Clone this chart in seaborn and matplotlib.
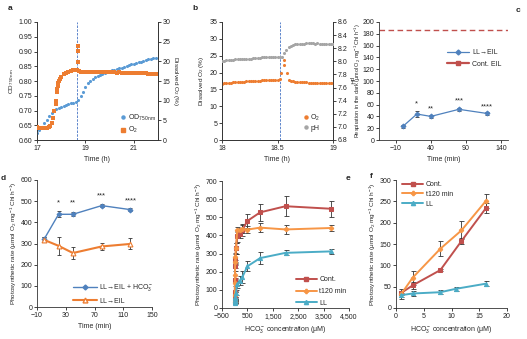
import numpy as np
import pandas as pd
import matplotlib
matplotlib.use("Agg")
import matplotlib.pyplot as plt
import seaborn as sns
from matplotlib.ticker import FuncFormatter, MultipleLocator, FormatStrFormatter
from matplotlib.lines import Line2D

# ---------------- data ----------------
# panel a
a_od_t = [17.0, 17.1, 17.2, 17.3, 17.4, 17.5, 17.6, 17.7, 17.8, 17.9, 18.0, 18.1, 18.2, 18.3, 18.4,
          18.5, 18.6, 18.7, 18.8, 18.9, 19.0, 19.1, 19.2, 19.3, 19.4, 19.5, 19.6, 19.7, 19.8, 19.9,
          20.0, 20.1, 20.2, 20.3, 20.4, 20.5, 20.6, 20.7, 20.8, 20.9, 21.0, 21.1, 21.2, 21.3, 21.4,
          21.5, 21.6, 21.7, 21.8, 21.9]
a_od = [0.623, 0.633, 0.643, 0.656, 0.668, 0.680, 0.692, 0.699, 0.704, 0.708, 0.712, 0.716, 0.720,
        0.723, 0.725, 0.727, 0.729, 0.736, 0.750, 0.764, 0.779, 0.792, 0.800, 0.808, 0.813, 0.818,
        0.821, 0.824, 0.827, 0.830, 0.833, 0.836, 0.838, 0.841, 0.843, 0.845, 0.848, 0.851, 0.853,
        0.856, 0.859, 0.861, 0.864, 0.866, 0.869, 0.871, 0.873, 0.875, 0.877, 0.879]
a_o2_t = [17.0, 17.1, 17.2, 17.3, 17.4, 17.5, 17.55, 17.6, 17.65, 17.7, 17.77, 17.78, 17.81, 17.83,
          17.85, 17.88, 17.9, 17.95, 18.0, 18.1, 18.2, 18.3, 18.4, 18.5, 18.6, 18.65, 18.69, 18.7,
          18.71, 18.75, 18.8, 18.9, 19.0, 19.1, 19.2, 19.3, 19.4, 19.5, 19.6, 19.7, 19.8, 19.9,
          20.0, 20.1, 20.2, 20.3, 20.4, 20.5, 20.6, 20.7, 20.8, 20.9, 21.0, 21.1, 21.2, 21.3,
          21.4, 21.5, 21.6, 21.7, 21.8, 21.9]
a_o2 = [3.2, 3.0, 3.0, 3.0, 3.1, 3.3, 3.6, 4.4, 5.6, 7.5, 9.1, 10.0, 12.2, 13.0, 13.8, 14.5, 15.0,
        15.6, 16.1, 16.7, 17.1, 17.4, 17.6, 17.7, 17.8, 17.8, 19.8, 22.6, 24.0, 17.6, 17.3, 17.2,
        17.2, 17.2, 17.2, 17.2, 17.2, 17.2, 17.2, 17.2, 17.2, 17.2, 17.2, 17.2, 17.2, 17.1, 17.2,
        17.1, 17.1, 17.1, 17.1, 17.1, 17.1, 17.0, 17.0, 17.0, 17.0, 17.0, 16.9, 16.9, 16.8, 16.8]
a_switch = 18.65

# panel b
b_o2_t = [18.00, 18.02, 18.04, 18.06, 18.08, 18.10, 18.12, 18.14, 18.16, 18.18, 18.20, 18.22, 18.24,
          18.26, 18.28, 18.30, 18.32, 18.34, 18.36, 18.38, 18.40, 18.42, 18.44, 18.46, 18.48, 18.50,
          18.52, 18.53, 18.556, 18.562, 18.59, 18.607, 18.62, 18.64, 18.66, 18.68, 18.70, 18.72,
          18.74, 18.76, 18.78, 18.80, 18.82, 18.84, 18.86, 18.88, 18.90, 18.92, 18.94, 18.96, 18.98,
          19.00]
b_o2 = [16.7, 16.8, 16.9, 16.9, 17.0, 17.1, 17.1, 17.2, 17.2, 17.3, 17.3, 17.4, 17.4, 17.5, 17.5,
        17.6, 17.6, 17.6, 17.7, 17.7, 17.7, 17.8, 17.8, 17.8, 17.9, 17.9, 18.0, 19.8, 22.3, 23.7,
        20.0, 17.8, 17.5, 17.4, 17.3, 17.2, 17.2, 17.1, 17.1, 17.1, 17.0, 17.0, 17.0, 17.0, 16.9,
        16.9, 16.9, 17.0, 17.0, 16.9, 16.9, 16.9]
b_ph_t = [18.00, 18.02, 18.04, 18.06, 18.08, 18.10, 18.12, 18.14, 18.16, 18.18, 18.20, 18.22, 18.24,
          18.26, 18.28, 18.30, 18.32, 18.34, 18.36, 18.38, 18.40, 18.42, 18.44, 18.46, 18.48, 18.50,
          18.52, 18.54, 18.56, 18.58, 18.60, 18.62, 18.64, 18.66, 18.68, 18.70, 18.72, 18.74, 18.76,
          18.78, 18.80, 18.82, 18.84, 18.86, 18.88, 18.90, 18.92, 18.94, 18.96, 18.98, 19.00]
b_ph = [8.01, 8.01, 8.02, 8.02, 8.02, 8.02, 8.03, 8.03, 8.03, 8.03, 8.04, 8.04, 8.04, 8.04, 8.05,
        8.05, 8.05, 8.05, 8.06, 8.06, 8.06, 8.06, 8.06, 8.07, 8.07, 8.07, 8.07, 8.07, 8.12, 8.18,
        8.22, 8.24, 8.25, 8.26, 8.26, 8.27, 8.27, 8.27, 8.28, 8.28, 8.28, 8.28, 8.27, 8.28, 8.27,
        8.27, 8.27, 8.26, 8.26, 8.26, 8.26]
b_switch = 18.52

# panel c
c_t = [0, 20, 40, 80, 120]
c_resp = [23, 44, 40, 52, 45]
c_err = [2, 5, 2, 2, 2]
c_cont = 187
c_stars = ["*", "**", "***", "****"]
c_star_t = [20, 40, 80, 120]
c_star_y = [62, 53, 66, 56]

# panel d
d_t = [0, 20, 40, 80, 120]
d_hco3 = [321, 438, 438, 479, 460]
d_hco3_err = [12, 14, 9, 6, 6]
d_eil = [317, 289, 255, 286, 298]
d_eil_err = [12, 41, 28, 18, 26]
d_star_t = [20, 40, 80, 120]
d_star_y = [492, 492, 527, 502]

# panel e
e_cont_x = [1, 3, 8, 12, 16, 25, 50, 100, 200, 300, 500, 1000, 2000, 3800]
e_cont = [35, 53, 89, 157, 234, 270, 330, 395, 410, 430, 480, 527, 561, 547]
e_cont_err = [5, 8, 3, 8, 12, 25, 30, 30, 25, 35, 37, 46, 55, 45]
e_t120_x = [1, 3, 8, 12, 16, 25, 50, 100, 200, 300, 500, 1000, 2000, 3800]
e_t120 = [32, 71, 139, 182, 251, 280, 330, 432, 428, 435, 432, 443, 433, 441]
e_t120_err = [12, 16, 18, 21, 16, 25, 30, 15, 15, 20, 18, 23, 25, 16]
e_ll_x = [1, 3, 8, 11, 16, 25, 50, 100, 200, 300, 500, 1000, 2000, 3800]
e_ll = [30, 34, 37, 45, 57, 62, 85, 130, 150, 170, 230, 275, 304, 312]
e_ll_err = [5, 5, 5, 5, 6, 10, 15, 20, 25, 32, 27, 32, 13, 12]

# panel f
f_cont_x = [0.9, 3, 8, 11.8, 16.2]
f_cont = [35, 53, 89, 157, 234]
f_cont_err = [5, 8, 3, 8, 12]
f_t120_x = [0.9, 3, 8, 11.8, 16.2]
f_t120 = [32, 71, 139, 182, 251]
f_t120_err = [12, 16, 18, 21, 16]
f_ll_x = [0.9, 3, 8, 10.8, 16.2]
f_ll = [30, 34, 37, 45, 57]
f_ll_err = [5, 5, 5, 5, 6]

# ---------------- style ----------------
sns.set_theme(style="ticks")
plt.rcParams['font.family'] = ['Liberation Sans', 'DejaVu Sans']
plt.rcParams['mathtext.fontset'] = 'custom'
plt.rcParams['mathtext.rm'] = 'Liberation Sans'
plt.rcParams['mathtext.it'] = 'Liberation Sans:italic'
plt.rcParams['mathtext.bf'] = 'Liberation Sans:bold'
plt.rcParams['font.size'] = 5

BLUE = "#5B9BD5"
ORANGE = "#ED7D31"
GRAY = "#A5A5A5"
DBLUE = "#4F81BD"
RED = "#C0504D"
LORANGE = "#F79646"
CYAN = "#4BACC6"
VLINE = "#4472C4"
EB = "#333333"
LFS = 4.6

W, H = 527, 339
fig = plt.figure(figsize=(W / 100, H / 100), dpi=100)


def px_axes(l, t, r, b):
    return fig.add_axes([l / W, 1 - b / H, (r - l) / W, (b - t) / H])


def style(ax, right=False):
    ax.spines['top'].set_visible(False)
    if not right:
        ax.spines['right'].set_visible(False)
    for s in ax.spines.values():
        s.set_linewidth(0.6)
        s.set_color('#333333')
    ax.tick_params(labelsize=5, length=2, width=0.6, pad=1.5, colors='#222222')


def ylab(ax, txt, pad=2, fs=LFS):
    ax.set_ylabel(txt, fontsize=fs, labelpad=pad)


def xlab(ax, txt, pad=3):
    ax.set_xlabel(txt, fontsize=5, labelpad=pad)


rate_lbl = "Photosynthetic rate (μmol O$_2$ mg$^{-1}$ Chl h$^{-1}$)"

# ---------------- panel a ----------------
ax = px_axes(37, 22, 158, 140)
ax2 = ax.twinx()
sns.scatterplot(x=a_od_t, y=a_od, ax=ax, color=BLUE, s=5, marker='o', linewidth=0, zorder=3)
sns.scatterplot(x=a_o2_t, y=a_o2, ax=ax2, color=ORANGE, s=7, marker='s', linewidth=0, zorder=3)
ax.axvline(a_switch, color=VLINE, lw=0.6, ls=(0, (3, 1.5)))
ax.set_xlim(17, 22)
ax.set_ylim(0.60, 1.00)
ax2.set_ylim(0, 30)
ax.set_xticks([17, 19, 21])
ax.yaxis.set_major_locator(MultipleLocator(0.05))
ax.yaxis.set_major_formatter(FormatStrFormatter('%.2f'))
ax2.yaxis.set_major_locator(MultipleLocator(5))
style(ax, True)
style(ax2, True)
ylab(ax, "OD$_{750\\,\\mathrm{nm}}$")
ax2.set_ylabel("Dissolved O$_2$ (%)", fontsize=LFS, rotation=270, labelpad=7)
xlab(ax, "Time (h)")
hs = [Line2D([], [], ls='', marker='o', ms=2.2, color=BLUE),
      Line2D([], [], ls='', marker='s', ms=2.4, color=ORANGE)]
ax2.legend(hs, ["OD$_{750\\,\\mathrm{nm}}$", "O$_2$"], loc='lower right', bbox_to_anchor=(1.02, 0.0),
           frameon=False, fontsize=5, handlelength=0.6, handletextpad=0.3, labelspacing=0.3,
           borderaxespad=0.3)

# ---------------- panel b ----------------
ax = px_axes(222, 22, 333, 140)
ax2 = ax.twinx()
sns.scatterplot(x=b_o2_t, y=b_o2, ax=ax, color=ORANGE, s=5, marker='o', linewidth=0, zorder=3)
sns.scatterplot(x=b_ph_t, y=b_ph, ax=ax2, color=GRAY, s=5, marker='o', linewidth=0, zorder=3)
ax.axvline(b_switch, color=VLINE, lw=0.6, ls=(0, (3, 1.5)))
ax.set_xlim(18, 19)
ax.set_ylim(0, 35)
ax2.set_ylim(6.8, 8.6)
ax.set_xticks([18, 18.5, 19])
ax.set_xticklabels(["18", "18.5", "19"])
ax.yaxis.set_major_locator(MultipleLocator(5))
ax2.yaxis.set_major_locator(MultipleLocator(0.2))
ax2.yaxis.set_major_formatter(FormatStrFormatter('%.1f'))
style(ax, True)
style(ax2, True)
ylab(ax, "Dissolved O$_2$ (%)")
ax2.set_ylabel("pH", fontsize=4.3, rotation=270, labelpad=4.5)
xlab(ax, "Time (h)")
hs = [Line2D([], [], ls='', marker='o', ms=2.2, color=ORANGE),
      Line2D([], [], ls='', marker='o', ms=2.2, color=GRAY)]
ax2.legend(hs, ["O$_2$", "pH"], loc='lower right', bbox_to_anchor=(0.93, 0.03),
           frameon=False, fontsize=5, handlelength=0.6, handletextpad=0.3, labelspacing=0.3,
           borderaxespad=0.3)

# ---------------- panel c ----------------
ax = px_axes(379, 22, 508, 140)
ax.axhline(c_cont, color=RED, lw=1.0, ls=(0, (4, 2.5)))
ax.errorbar(c_t, c_resp, yerr=c_err, fmt='none', ecolor=EB, elinewidth=0.6, capsize=1.5,
            capthick=0.6, zorder=2)
sns.lineplot(x=c_t, y=c_resp, ax=ax, color=DBLUE, marker='D', markersize=2.5,
             markeredgecolor=DBLUE, linewidth=0.9, zorder=3)
for t, y, s in zip(c_star_t, c_star_y, c_stars):
    ax.text(t, y, s, ha='center', va='center', fontsize=5.5)
ax.set_xlim(-34, 150)
ax.set_ylim(0, 200)
ax.set_xticks([-10, 40, 90, 140])
ax.yaxis.set_major_locator(MultipleLocator(20))
style(ax)
ylab(ax, "Respiration in the dark (μmol O$_2$ mg$^{-1}$ Chl h$^{-1}$)", pad=1, fs=4.0)
ax.yaxis.set_label_coords(-0.125, 0.5)
xlab(ax, "Time (min)")
hs = [Line2D([], [], color=DBLUE, lw=0.9, marker='D', ms=2.5),
      Line2D([], [], color=RED, lw=1.6, marker='s', ms=2.8)]
ax.legend(hs, ["LL→EIL", "Cont. EIL"], loc='upper right', bbox_to_anchor=(1.0, 0.82),
          frameon=False, fontsize=5, handlelength=3.2, handletextpad=0.4, labelspacing=0.6)

# ---------------- panel d ----------------
ax = px_axes(37, 180, 152, 307)
ax.errorbar(d_t, d_hco3, yerr=d_hco3_err, fmt='none', ecolor=EB, elinewidth=0.6, capsize=1.5,
            capthick=0.6, zorder=2)
ax.errorbar(d_t, d_eil, yerr=d_eil_err, fmt='none', ecolor=EB, elinewidth=0.6, capsize=1.5,
            capthick=0.6, zorder=2)
sns.lineplot(x=d_t, y=d_hco3, ax=ax, color=DBLUE, marker='D', markersize=2.5,
             markeredgecolor=DBLUE, linewidth=1.0, zorder=3)
sns.lineplot(x=d_t, y=d_eil, ax=ax, color=ORANGE, marker='^', markersize=3.5,
             markerfacecolor='white', markeredgecolor=ORANGE, markeredgewidth=0.8,
             linewidth=1.5, zorder=3)
for t, y, s in zip(d_star_t, d_star_y, c_stars):
    ax.text(t, y, s, ha='center', va='center', fontsize=5.5)
ax.set_xlim(-10, 150)
ax.set_ylim(0, 600)
ax.set_xticks([-10, 30, 70, 110, 150])
ax.yaxis.set_major_locator(MultipleLocator(100))
style(ax)
ylab(ax, rate_lbl, pad=1)
xlab(ax, "Time (min)")
hs = [Line2D([], [], color=DBLUE, lw=1.0, marker='D', ms=2.5),
      Line2D([], [], color=ORANGE, lw=1.5, marker='^', ms=3.5, markerfacecolor='white')]
ax.legend(hs, ["LL→EIL + HCO$_3^-$", "LL→EIL"], loc='lower right', bbox_to_anchor=(1.07, -0.03),
          frameon=False, fontsize=5, handlelength=3.4, handletextpad=0.4, labelspacing=0.6)

# ---------------- panel e & f ----------------
def curves(ax, data):
    for x, y, e, col, mk, ms in data:
        ax.errorbar(x, y, yerr=e, fmt='none', ecolor=EB, elinewidth=0.6, capsize=1.8,
                    capthick=0.6, zorder=2)
    for x, y, e, col, mk, ms in data:
        sns.lineplot(x=x, y=y, ax=ax, color=col, marker=mk, markersize=ms,
                     markeredgecolor=col, linewidth=1.4, zorder=3)


e_data = [(e_cont_x, e_cont, e_cont_err, RED, 's', 2.8),
          (e_t120_x, e_t120, e_t120_err, LORANGE, 'P', 3.0),
          (e_ll_x, e_ll, e_ll_err, CYAN, '^', 3.0)]
f_data = [(f_cont_x, f_cont, f_cont_err, RED, 's', 2.8),
          (f_t120_x, f_t120, f_t120_err, LORANGE, 'P', 3.0),
          (f_ll_x, f_ll, f_ll_err, CYAN, '^', 3.0)]
names = ["Cont.", "t120 min", "LL"]
hs = [Line2D([], [], color=RED, lw=1.4, marker='s', ms=2.8),
      Line2D([], [], color=LORANGE, lw=1.4, marker='P', ms=3.0),
      Line2D([], [], color=CYAN, lw=1.4, marker='^', ms=3.0)]

ax = px_axes(222, 181, 349, 308)
curves(ax, e_data)
ax.set_xlim(-500, 4500)
ax.set_ylim(0, 700)
ax.set_xticks([-500, 500, 1500, 2500, 3500, 4500])
ax.xaxis.set_major_formatter(FuncFormatter(lambda v, p: f"{int(v):,}".replace('-', '−')))
ax.yaxis.set_major_locator(MultipleLocator(100))
style(ax)
ylab(ax, rate_lbl, pad=1)
xlab(ax, "HCO$_3^-$ concentration (μM)")
ax.legend(hs, names, loc='lower right', bbox_to_anchor=(1.03, -0.04),
          frameon=False, fontsize=5, handlelength=3.0, handletextpad=0.4, labelspacing=0.7)

ax = px_axes(396, 180, 507, 308)
curves(ax, f_data)
ax.set_xlim(0, 20)
ax.set_ylim(0, 300)
ax.xaxis.set_major_locator(MultipleLocator(5))
ax.yaxis.set_major_locator(MultipleLocator(50))
style(ax)
ylab(ax, rate_lbl, pad=1)
xlab(ax, "HCO$_3^-$ concentration (μM)")
ax.legend(hs, names, loc='upper left', bbox_to_anchor=(0.0, 1.04),
          frameon=False, fontsize=5, handlelength=3.0, handletextpad=0.4, labelspacing=0.4)

# ---------------- panel letters ----------------
for (px, py, s) in [(10, 8, "a"), (195, 8, "b"), (518, 10, "c"), (3, 178, "d"),
                    (348, 178, "e"), (371, 176, "f")]:
    fig.text(px / W, 1 - py / H, s, fontsize=6, fontweight='bold', ha='center', va='center')

fig.savefig("out.png", dpi=100)
